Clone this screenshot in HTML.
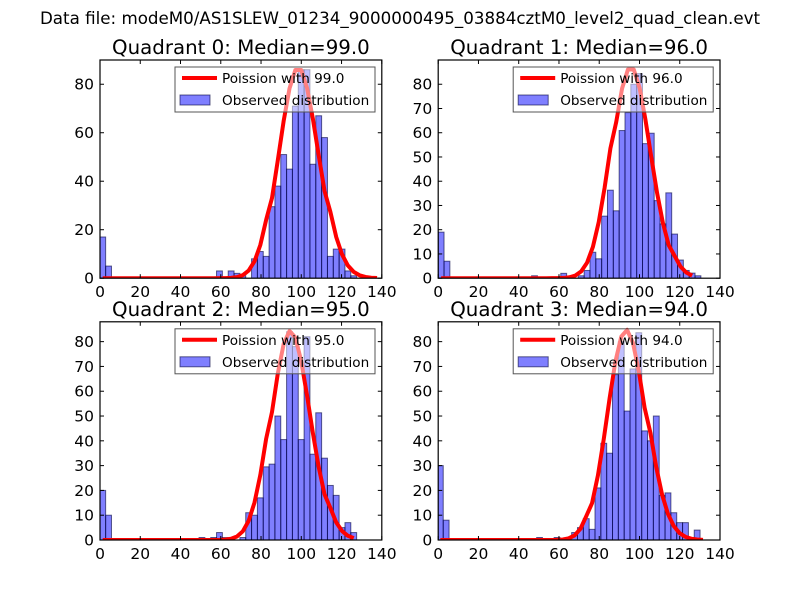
<!DOCTYPE html>
<html><head><meta charset="utf-8">
<style>
html,body{margin:0;padding:0;background:#fff;}
svg{display:block;font-family:"DejaVu Sans","Liberation Sans",sans-serif;}
</style></head>
<body>
<svg id="fig" width="800" height="600" viewBox="0 0 800 600" xmlns="http://www.w3.org/2000/svg">
<rect x="0" y="0" width="800" height="600" fill="#fff"/>
<text x="400" y="24" text-anchor="middle" font-size="16.7">Data file: modeM0/AS1SLEW_01234_9000000495_03884cztM0_level2_quad_clean.evt</text>
</svg>
<script>
// ---- data ----
const quadrantNames = ["Quadrant 0: Median=99.0","Quadrant 1: Median=96.0","Quadrant 2: Median=95.0","Quadrant 3: Median=94.0"];
const medians = [99.0, 96.0, 95.0, 94.0];
const poissonScale = [2165, 2138, 2061, 2061];
const curveEnd = [138, 128, 128, 133];
const binStart = [-0.1, 0.0, -0.1, -0.4];
const binWidth = [2.9, 2.9, 2.9, 2.9];
const yMax = [90, 90, 88, 88];
const xTicks = [0,20,40,60,80,100,120,140];
const yTicksTop = [0,20,40,60,80];
const yTicksTopRight = [0,10,20,30,40,50,60,70,80];
const yTicksBottom = [0,10,20,30,40,50,60,70,80];
const counts0 = [17,5,0,0,0,0,0,0,0,0,0,0,0,0,0,0,0,0,0,0,3,0,3,2,1,0,8,11,9,29.5,38,51,45,71,86,86,47,67,58,9,12,12,3,1];
const counts1 = [19,7,0,0,0,0,0,0,0,0,0,0,0,0,0,0,1,0,0,0,0,2,0,0,1,3.2,10.7,8,25.6,36.3,27.8,60.9,68.3,80,84.4,55.5,59.8,32,22.4,35.2,18.2,7.5,3.2,2.1,1];
const counts2 = [20,10,0,0,0,0,0,0,0,0,0,0,0,0,0,0,0,1,0,1,3,1,0,0,1,11,10,17,29.5,30.6,50,40.5,84,78,40.5,82,34.6,51.3,33,22,18,5,7,3];
const counts3 = [30,8,0,0,0,0,0,0,0,0,0,0,0,0,0,0,0,1,0,0,1,0,0,3,5,8.6,4.3,21,39,35,66.7,80,52,69,83.6,44,40,50,18,19,11,7,7,1,4];
const allCounts = [counts0, counts1, counts2, counts3];
const allYTicks = [yTicksTop, yTicksTopRight, yTicksBottom, yTicksBottom];

// ---- layout ----
const NS = "http://www.w3.org/2000/svg";
const svg = document.getElementById('fig');
const axL = [100, 438.2, 100, 438.2];
const axT = [60, 60, 321.8, 321.8];
const AW = 281.8, AH = 218.2, XMAX = 140;

function mk(tag, attrs, parent){
  const e = document.createElementNS(NS, tag);
  for (const k in attrs) e.setAttribute(k, attrs[k]);
  (parent||svg).appendChild(e);
  return e;
}
function lnFact(k){ let s=0; for(let i=2;i<=k;i++) s+=Math.log(i); return s; }
function pmf(k, mu){ return Math.exp(k*Math.log(mu) - mu - lnFact(k)); }

for (let q=0;q<4;q++){
  const L=axL[q], T=axT[q], B=T+AH;
  const xs = v => L + v/XMAX*AW;
  const ys = v => B - v/yMax[q]*AH;
  const g = mk('g', {});
  
  
  const clipId = 'clip'+q;
  const cp = mk('clipPath', {id: clipId}, g);
  mk('rect', {x:L, y:T, width:AW, height:AH}, cp);
  const plot = mk('g', {'clip-path':'url(#'+clipId+')'}, g);
  const counts = allCounts[q];
  counts.forEach((c,i)=>{
    if (c<=0) return;
    const x0 = binStart[q] + i*binWidth[q];
    const r = mk('rect', {x:xs(x0), y:ys(c), width:xs(x0+binWidth[q])-xs(x0), height:B-ys(c),
      fill:'rgba(0,0,255,0.5)', stroke:'rgba(0,0,60,0.6)', 'stroke-width':'1'}, plot);
    
    
  });
  let pts = [];
  for (let i=0;;i++){
    const xc = binStart[q] + (i+0.5)*binWidth[q];
    if (xc > curveEnd[q]) break;
    const k = Math.max(0, Math.round(xc));
    pts.push(xs(Math.max(0,xc)).toFixed(2)+','+ys(poissonScale[q]*pmf(k, medians[q])).toFixed(2));
  }
  const pl = mk('polyline', {points: pts.join(' '), fill:'none', stroke:'#ff0000', 'stroke-width':'4', 'stroke-linejoin':'round'}, plot);
  
  
  const fr = mk('rect', {x:L, y:T, width:AW, height:AH, fill:'none', stroke:'#000', 'stroke-width':'1.2'}, g);
  
  
  xTicks.forEach(t=>{
    const x = xs(t);
    mk('line', {x1:x, y1:B, x2:x, y2:B-4, stroke:'#000'}, g);
    mk('line', {x1:x, y1:T, x2:x, y2:T+4, stroke:'#000'}, g);
    const tx = mk('text', {x:x, y:B+19, 'text-anchor':'middle', 'font-size':'15.5'}, g);
    tx.textContent = t;
    
    
  });
  allYTicks[q].forEach(t=>{
    const y = ys(t);
    mk('line', {x1:L, y1:y, x2:L+4, y2:y, stroke:'#000'}, g);
    mk('line', {x1:L+AW, y1:y, x2:L+AW-4, y2:y, stroke:'#000'}, g);
    const tx = mk('text', {x:L-6, y:y+5.5, 'text-anchor':'end', 'font-size':'15.5'}, g);
    tx.textContent = t;
    
    
  });
  const ti = mk('text', {x:L+AW/2, y:T-6, 'text-anchor':'middle', 'font-size':'19.8'}, g);
  ti.textContent = quadrantNames[q];
  
  
  const lg = mk('g', {}, g);
  
  
  const lx = L+75, ly = T+7;
  mk('rect', {x:lx, y:ly, width:200, height:45, fill:'rgba(255,255,255,0.5)', stroke:'#555', 'stroke-width':'1'}, lg);
  mk('line', {x1:lx+7, y1:ly+11, x2:lx+42, y2:ly+11, stroke:'#ff0000', 'stroke-width':'4'}, lg);
  const t1 = mk('text', {x:lx+47, y:ly+16, 'font-size':'13.6'}, lg);
  t1.textContent = 'Poission with ' + medians[q].toFixed(1);
  
  
  mk('rect', {x:lx+5, y:ly+28, width:30, height:10, fill:'rgba(0,0,255,0.5)', stroke:'rgba(0,0,60,0.6)'}, lg);
  const t2 = mk('text', {x:lx+47, y:ly+38, 'font-size':'13.6'}, lg);
  t2.textContent = 'Observed distribution';
  
  
}
</script>
</body></html>
